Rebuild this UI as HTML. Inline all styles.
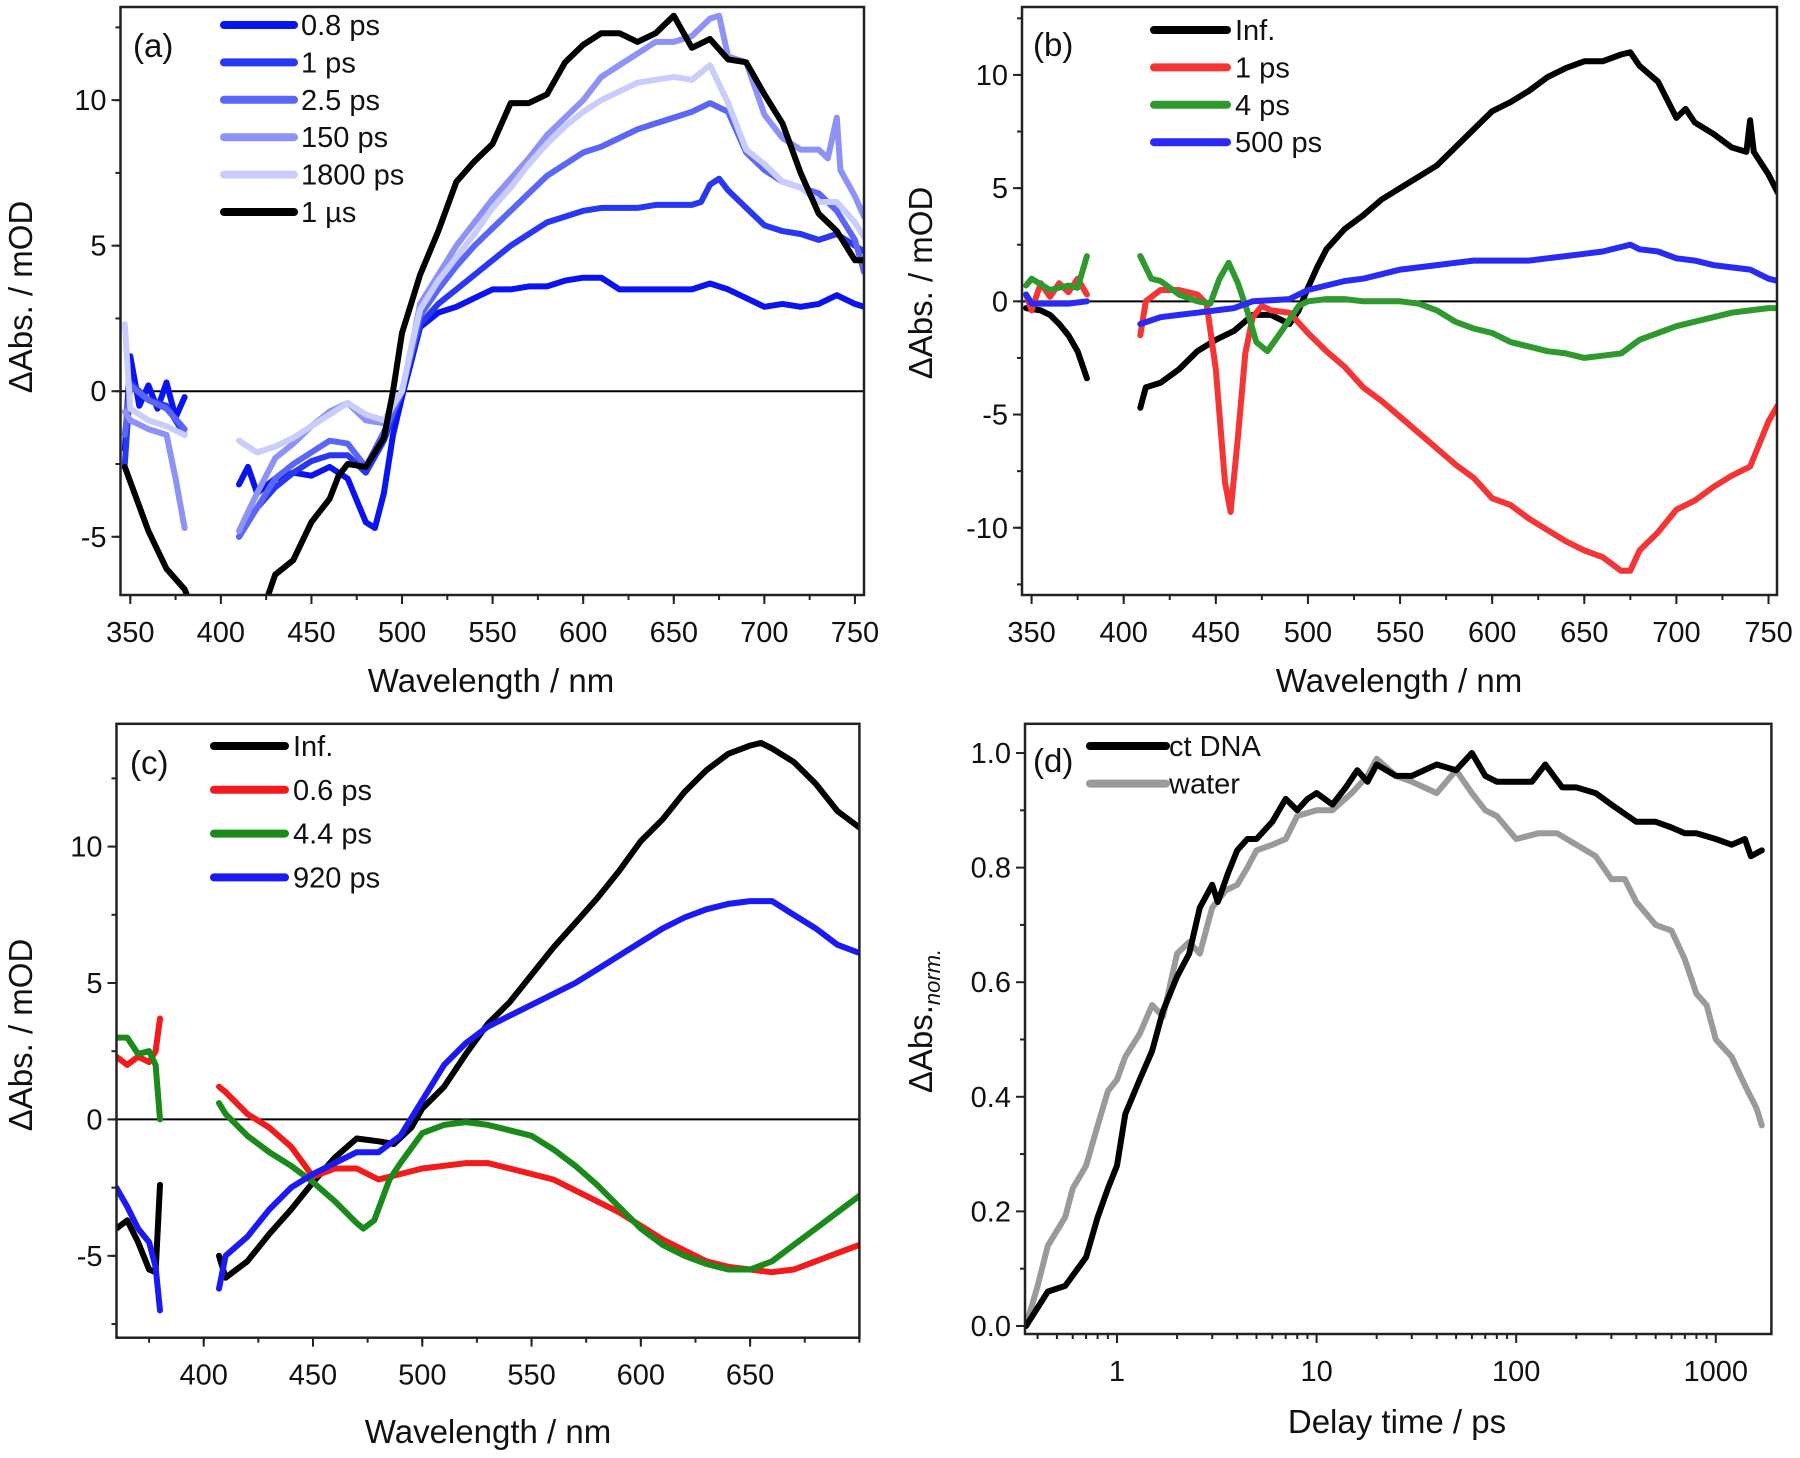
<!DOCTYPE html>
<html><head><meta charset="utf-8"><style>
html,body{margin:0;padding:0;background:#fff;}
svg{display:block;font-family:"Liberation Sans",Arial,sans-serif;}
</style></head><body>
<svg id="fig" width="1800" height="1458" viewBox="0 0 1800 1458" xmlns="http://www.w3.org/2000/svg"></svg>
<script>
// ---------- Panel (a) data ----------
const aLabels = ["0.8 ps","1 ps","2.5 ps","150 ps","1800 ps","1 µs"];
const aColors = ["#0a14f0","#2838f2","#5a66f5","#8c92f7","#c9cdfb","#000000"];
const a_08 = [[347,-2],[350,1.2],[355,-0.5],[360,0.2],[365,-0.6],[370,0.3],[375,-0.9],[380,-0.2],null,[410,-3.2],[415,-2.6],[420,-3.5],[430,-3.0],[440,-2.8],[450,-2.9],[460,-2.6],[470,-3.0],[480,-4.5],[485,-4.7],[490,-3.5],[495,-1.5],[500,-0.2],[505,1.0],[510,2.2],[520,2.7],[530,2.9],[540,3.2],[550,3.5],[560,3.5],[570,3.6],[580,3.6],[590,3.8],[600,3.9],[610,3.9],[620,3.5],[630,3.5],[640,3.5],[650,3.5],[660,3.5],[670,3.7],[680,3.5],[690,3.2],[700,2.9],[710,3.0],[720,2.9],[730,3.0],[740,3.3],[750,3.0],[755,2.9]];
const a_1 = [[347,-2.5],[350,0.3],[360,-0.3],[370,-0.5],[380,-1.5],null,[410,-5],[420,-4],[430,-3.3],[440,-2.8],[450,-2.4],[460,-2.2],[470,-2.2],[480,-2.8],[490,-1.7],[500,0],[505,1.2],[510,2.3],[520,3],[530,3.5],[540,4],[550,4.5],[560,5.0],[570,5.4],[580,5.8],[590,6.0],[600,6.2],[610,6.3],[620,6.3],[630,6.3],[640,6.4],[650,6.4],[660,6.4],[665,6.5],[670,7.1],[675,7.3],[680,6.9],[690,6.3],[700,5.7],[710,5.5],[720,5.4],[730,5.2],[740,5.4],[750,5.0],[755,4.8]];
const a_25 = [[347,-1.5],[350,0.2],[360,-0.3],[370,-0.6],[380,-1.3],null,[410,-5],[420,-4],[430,-3],[440,-2.5],[450,-2.1],[460,-1.7],[470,-1.8],[480,-2.6],[490,-1.4],[500,0],[505,1.3],[510,2.6],[520,3.5],[530,4.3],[540,5],[550,5.6],[560,6.2],[570,6.8],[580,7.4],[590,7.8],[600,8.2],[610,8.4],[620,8.7],[630,9.0],[640,9.2],[650,9.4],[660,9.6],[670,9.9],[680,9.6],[690,8.2],[700,7.6],[710,7.2],[720,7.0],[730,6.8],[740,6.2],[750,5.2],[755,4.1]];
const a_150 = [[347,-0.7],[350,-1],[360,-1.3],[370,-1.5],[375,-3],[380,-4.7],null,[410,-4.8],[420,-3.5],[430,-2.3],[440,-1.8],[450,-1.2],[460,-0.7],[470,-0.4],[480,-1],[490,-1.1],[495,-0.5],[500,0],[505,1.4],[510,3],[520,4],[530,5],[540,5.8],[550,6.6],[560,7.3],[570,8],[580,8.8],[590,9.4],[600,10],[610,10.8],[620,11.2],[630,11.6],[640,12],[650,12.0],[660,12.2],[670,12.8],[675,12.9],[680,11.5],[690,11.3],[700,9.5],[710,8.7],[720,8.3],[730,8.3],[735,8.0],[740,9.4],[742,7.6],[750,6.7],[755,6.0]];
const a_1800 = [[347,2.3],[350,-0.6],[360,-1],[370,-1.2],[380,-1.5],null,[410,-1.7],[420,-2.1],[430,-1.9],[440,-1.6],[450,-1.2],[460,-0.8],[470,-0.4],[480,-0.8],[490,-1.0],[500,0],[505,1.5],[510,2.8],[520,3.8],[530,4.6],[540,5.4],[550,6.3],[560,7],[570,7.8],[580,8.5],[590,9.1],[600,9.6],[610,10],[620,10.3],[630,10.6],[640,10.7],[650,10.8],[660,10.7],[670,11.2],[680,9.9],[690,8.3],[700,7.8],[710,7.2],[720,7],[730,6.5],[740,6.5],[750,5.8],[755,5.3]];
const a_1us = [[347,-2.6],[360,-4.8],[370,-6.1],[380,-6.8],[385,-7.6],null,[423,-7.6],[425,-7.2],[430,-6.3],[440,-5.8],[450,-4.5],[460,-3.7],[465,-2.9],[470,-2.5],[480,-2.6],[490,-1.6],[495,0],[500,2.0],[505,3.0],[510,4.0],[520,5.5],[530,7.2],[540,7.9],[550,8.5],[560,9.9],[570,9.9],[580,10.2],[590,11.3],[600,11.9],[610,12.3],[620,12.3],[630,12.0],[640,12.3],[650,12.9],[660,11.8],[670,12.1],[680,11.4],[690,11.3],[700,10.2],[710,9.2],[720,7.5],[730,6.1],[740,5.5],[750,4.5],[755,4.5]];
const aXTicks = [350,400,450,500,550,600,650,700,750];
const aYTicks = [-5,0,5,10];

// ---------- Panel (b) data ----------
const bLabels = ["Inf.","1 ps","4 ps","500 ps"];
const bColors = ["#000000","#f53535","#2e9a2e","#2a2af5"];
const b_inf = [[347,-0.3],[355,-0.4],[360,-0.6],[365,-1],[370,-1.5],[375,-2.2],[380,-3.4],null,[409,-4.7],[412,-3.8],[420,-3.6],[430,-3.0],[440,-2.2],[450,-1.7],[460,-1.3],[470,-0.6],[480,-0.6],[490,-1.0],[495,-0.4],[500,0.6],[505,1.5],[510,2.3],[520,3.2],[530,3.8],[540,4.5],[550,5.0],[560,5.5],[570,6.0],[580,6.8],[590,7.6],[600,8.4],[610,8.8],[620,9.3],[630,9.9],[640,10.3],[650,10.6],[660,10.6],[670,10.9],[675,11],[680,10.4],[690,9.7],[700,8.1],[705,8.5],[710,7.9],[720,7.4],[730,6.8],[738,6.6],[740,8.0],[742,6.6],[750,5.6],[755,4.8]];
const b_1 = [[347,0.3],[350,-0.4],[355,0.8],[360,0.2],[365,0.8],[370,0.4],[375,1.0],[380,0.3],null,[409,-1.5],[412,0],[420,0.5],[430,0.5],[440,0.3],[445,-0.1],[450,-3],[455,-8],[458,-9.3],[462,-6],[466,-2.3],[470,-0.7],[475,-0.2],[480,-0.4],[490,-0.5],[500,-1.4],[510,-2.2],[520,-2.9],[530,-3.8],[540,-4.4],[550,-5.1],[560,-5.8],[570,-6.5],[580,-7.2],[590,-7.8],[600,-8.7],[610,-9.0],[620,-9.6],[630,-10.1],[640,-10.6],[650,-11],[660,-11.3],[670,-11.9],[675,-11.9],[680,-11],[690,-10.2],[700,-9.2],[710,-8.8],[720,-8.2],[730,-7.7],[740,-7.3],[750,-5.3],[755,-4.6]];
const b_4 = [[347,0.7],[350,1.0],[360,0.5],[370,0.7],[375,0.6],[380,2.0],null,[409,2.0],[415,1.0],[420,0.9],[430,0.3],[440,0],[447,-0.1],[452,1],[457,1.7],[462,0.8],[467,-0.4],[472,-1.8],[478,-2.2],[485,-1.4],[495,-0.2],[500,0],[510,0.1],[520,0.1],[530,0],[540,0],[550,0],[560,-0.1],[570,-0.4],[580,-0.9],[590,-1.2],[600,-1.4],[610,-1.8],[620,-2.0],[630,-2.2],[640,-2.3],[650,-2.5],[660,-2.4],[670,-2.3],[680,-1.7],[690,-1.4],[700,-1.1],[710,-0.9],[720,-0.7],[730,-0.5],[740,-0.4],[750,-0.3],[755,-0.3]];
const b_500 = [[347,0.3],[350,-0.1],[360,-0.1],[370,-0.1],[380,0],null,[409,-1],[420,-0.7],[430,-0.6],[440,-0.5],[450,-0.4],[460,-0.3],[470,0],[480,0.05],[490,0.1],[500,0.5],[510,0.7],[520,0.9],[530,1.0],[540,1.2],[550,1.4],[560,1.5],[570,1.6],[580,1.7],[590,1.8],[600,1.8],[610,1.8],[620,1.8],[630,1.9],[640,2.0],[650,2.1],[660,2.2],[670,2.4],[675,2.5],[680,2.3],[690,2.2],[700,1.9],[710,1.8],[720,1.6],[730,1.5],[740,1.4],[750,1.0],[755,0.9]];
const bXTicks = [350,400,450,500,550,600,650,700,750];
const bYTicks = [-10,-5,0,5,10];

// ---------- Panel (c) data ----------
const cLabels = ["Inf.","0.6 ps","4.4 ps","920 ps"];
const cColors = ["#000000","#f21a1a","#1a8a1a","#1a1af5"];
const c_inf = [[360,-4.0],[365,-3.7],[370,-4.5],[375,-5.5],[378,-5.6],[380,-2.4],null,[407,-5.0],[410,-5.8],[420,-5.2],[430,-4.2],[440,-3.3],[450,-2.3],[460,-1.4],[470,-0.7],[480,-0.8],[487,-0.9],[495,-0.3],[500,0.4],[510,1.2],[520,2.4],[530,3.5],[540,4.3],[550,5.3],[560,6.3],[570,7.2],[580,8.1],[590,9.1],[600,10.2],[610,11.0],[620,12.0],[630,12.8],[640,13.4],[650,13.7],[655,13.8],[660,13.6],[670,13.1],[680,12.3],[690,11.3],[700,10.7]];
const c_06 = [[360,2.3],[365,2.0],[370,2.3],[375,2.1],[378,2.5],[380,3.7],null,[407,1.2],[410,1.0],[420,0.2],[430,-0.3],[440,-1.0],[450,-2.1],[460,-1.8],[470,-1.8],[480,-2.2],[490,-2.0],[500,-1.8],[510,-1.7],[520,-1.6],[530,-1.6],[540,-1.8],[550,-2.0],[560,-2.2],[570,-2.6],[580,-3.0],[590,-3.4],[600,-3.9],[610,-4.4],[620,-4.8],[630,-5.2],[640,-5.4],[650,-5.5],[660,-5.6],[670,-5.5],[680,-5.2],[690,-4.9],[700,-4.6]];
const c_44 = [[360,3.0],[365,3.0],[370,2.4],[375,2.5],[378,2.0],[380,0],null,[407,0.6],[410,0.2],[420,-0.6],[430,-1.2],[440,-1.7],[450,-2.3],[460,-3.0],[470,-3.8],[473,-4.0],[478,-3.7],[485,-2.2],[490,-1.6],[500,-0.5],[510,-0.2],[520,-0.1],[530,-0.2],[540,-0.4],[550,-0.6],[560,-1.1],[570,-1.7],[580,-2.4],[590,-3.2],[600,-4.0],[610,-4.6],[620,-5.0],[630,-5.3],[640,-5.5],[650,-5.5],[660,-5.2],[670,-4.6],[680,-4.0],[690,-3.4],[700,-2.8]];
const c_920 = [[360,-2.5],[365,-3.2],[370,-4.0],[375,-4.5],[378,-5.4],[380,-7.0],null,[407,-6.2],[410,-5],[420,-4.3],[430,-3.3],[440,-2.5],[450,-2.0],[460,-1.6],[470,-1.2],[480,-1.2],[490,-0.6],[500,0.7],[510,2.0],[520,2.8],[530,3.4],[540,3.8],[550,4.2],[560,4.6],[570,5.0],[580,5.5],[590,6.0],[600,6.5],[610,7.0],[620,7.4],[630,7.7],[640,7.9],[650,8.0],[660,8.0],[670,7.5],[680,7.0],[690,6.4],[700,6.1]];
const cXTicks = [400,450,500,550,600,650];
const cYTicks = [-5,0,5,10];

// ---------- Panel (d) data ----------
const dLabels = ["ct DNA","water"];
const dColors = ["#000000","#9a9a9a"];
const d_dna = [[0.35,0],[0.45,0.06],[0.55,0.07],[0.7,0.12],[0.8,0.19],[0.9,0.24],[1.0,0.28],[1.1,0.37],[1.3,0.43],[1.5,0.48],[1.7,0.55],[2,0.61],[2.3,0.65],[2.6,0.73],[3,0.77],[3.2,0.74],[3.6,0.79],[4,0.83],[4.5,0.85],[5,0.85],[6,0.88],[7,0.92],[8,0.9],[9,0.92],[10,0.93],[12,0.91],[14,0.94],[16,0.97],[18,0.95],[20,0.98],[25,0.96],[30,0.96],[40,0.98],[50,0.97],[60,1.0],[70,0.96],[80,0.95],[100,0.95],[120,0.95],[140,0.98],[170,0.94],[200,0.94],[250,0.93],[300,0.91],[400,0.88],[500,0.88],[600,0.87],[700,0.86],[800,0.86],[1000,0.85],[1200,0.84],[1400,0.85],[1500,0.82],[1700,0.83]];
const d_water = [[0.35,0],[0.4,0.07],[0.45,0.14],[0.55,0.19],[0.6,0.24],[0.7,0.28],[0.8,0.35],[0.9,0.41],[1.0,0.43],[1.1,0.47],[1.3,0.51],[1.5,0.56],[1.7,0.54],[2,0.65],[2.3,0.67],[2.6,0.65],[3,0.73],[3.5,0.76],[4,0.77],[4.5,0.8],[5,0.83],[6,0.84],[7,0.85],[8,0.89],[10,0.9],[12,0.9],[15,0.93],[18,0.96],[20,0.99],[25,0.96],[30,0.95],[40,0.93],[50,0.97],[60,0.93],[70,0.90],[80,0.89],[100,0.85],[130,0.86],[160,0.86],[200,0.84],[250,0.82],[300,0.78],[350,0.78],[400,0.74],[500,0.7],[600,0.69],[700,0.64],[800,0.58],[900,0.56],[1000,0.5],[1200,0.47],[1400,0.42],[1600,0.38],[1700,0.35]];
const dXTicks = [1,10,100,1000];
const dXTickLabels = ["1","10","100","1000"];
const dYTicks = [0,0.2,0.4,0.6,0.8,1.0];
const dYTickLabels = ["0.0","0.2","0.4","0.6","0.8","1.0"];

const NS = "http://www.w3.org/2000/svg";
const svg = document.getElementById('fig');
function mk(tag, attrs, parent){
  const e = document.createElementNS(NS, tag);
  for (const k in attrs) e.setAttribute(k, attrs[k]);
  (parent||svg).appendChild(e);
  return e;
}
function text(str, x, y, size, parent, extra){
  const t = mk('text', Object.assign({x:x, y:y, 'font-size':size, fill:'#111'}, extra||{}), parent);
  t.textContent = str;
  return t;
}

function panel(o){
  const g = mk('g', {});
  
  
  const L=o.box[0], R=o.box[1], T=o.box[2], B=o.box[3];
  const xs = o.log
    ? v => L + (Math.log10(v)-Math.log10(o.xd[0]))/(Math.log10(o.xd[1])-Math.log10(o.xd[0]))*(R-L)
    : v => L + (v-o.xd[0])/(o.xd[1]-o.xd[0])*(R-L);
  const ys = v => B - (v-o.yd[0])/(o.yd[1]-o.yd[0])*(B-T);
  const cid = 'clip-'+o.name;
  const cp = mk('clipPath', {id:cid}, g);
  mk('rect', {x:L, y:T, width:R-L, height:B-T}, cp);
  if (o.zero){
    const z = mk('line', {x1:L, x2:R, y1:ys(0), y2:ys(0), stroke:'#000', 'stroke-width':2}, g);
    
    
  }
  const sg = mk('g', {'clip-path':'url(#'+cid+')'}, g);
  o.series.forEach((s, i) => {
    let d = '', pen = false;
    s.forEach(p => {
      if (!p){ pen = false; return; }
      d += (pen ? 'L' : 'M') + xs(p[0]).toFixed(1) + ' ' + ys(p[1]).toFixed(1) + ' ';
      pen = true;
    });
    const path = mk('path', {d:d, fill:'none', stroke:o.colors[i], 'stroke-width':6, 'stroke-linejoin':'round', 'stroke-linecap':'round'}, sg);
    
    
  });
  const fr = mk('rect', {x:L, y:T, width:R-L, height:B-T, fill:'none', stroke:'#222', 'stroke-width':2.5}, g);
  
  
  o.xt.forEach((v, i) => {
    const X = xs(v);
    mk('line', {x1:X, x2:X, y1:B, y2:B+9, stroke:'#222', 'stroke-width':2}, g);
    const t = text(o.xtl ? o.xtl[i] : String(v), X, B+47, 29, g, {'text-anchor':'middle'});
    
    
  });
  o.xminor.forEach(v => {
    const X = xs(v);
    if (X < L-0.5 || X > R+0.5) return;
    mk('line', {x1:X, x2:X, y1:B, y2:B+5, stroke:'#222', 'stroke-width':2}, g);
  });
  o.yt.forEach((v, i) => {
    const Y = ys(v);
    mk('line', {x1:L-9, x2:L, y1:Y, y2:Y, stroke:'#222', 'stroke-width':2}, g);
    const t = text(o.ytl ? o.ytl[i] : String(v), L-14, Y+10, 29, g, {'text-anchor':'end'});
    
    
  });
  o.yminor.forEach(v => {
    const Y = ys(v);
    if (Y < T-0.5 || Y > B+0.5) return;
    mk('line', {x1:L-5, x2:L, y1:Y, y2:Y, stroke:'#222', 'stroke-width':2}, g);
  });
  const xt = text(o.xtitle, o.xtpos[0], o.xtpos[1], 33, g, {'text-anchor':'middle'});
  
  
  const yt = mk('text', {x:0, y:0, 'font-size':33, fill:'#111', 'text-anchor':'middle', transform:'translate('+o.ytpos[0]+','+o.ytpos[1]+') rotate(-90)'}, g);
  yt.innerHTML = o.ytitle;
  
  
  const pl = text(o.tag, o.tagpos[0], o.tagpos[1], 33, g);
  
  
  const lg = mk('g', {}, g);
  
  
  o.labels.forEach((lab, i) => {
    const y = o.leg.y + i*o.leg.dy;
    const e = mk('g', {}, lg);
    
    
    mk('line', {x1:o.leg.x1, x2:o.leg.x2, y1:y, y2:y, stroke:o.colors[i], 'stroke-width':8, 'stroke-linecap':'round'}, e);
    text(lab, o.leg.tx, y+10, 29, e);
  });
}

function range(a, b, s){ const r=[]; for (let v=a; v<=b+1e-9; v+=s) r.push(+v.toFixed(4)); return r; }
const logMinor = []; [0.1,1,10,100,1000].forEach(dec => { for (let k=2;k<=9;k++) logMinor.push(dec*k); });

panel({name:'panel-a', box:[120.5,864,7,595], xd:[344.6,755], yd:[-7,13.2],
  series:[a_08,a_1,a_25,a_150,a_1800,a_1us], colors:aColors, labels:aLabels, zero:true,
  xt:aXTicks, xminor:range(325,775,25), yt:aYTicks, yminor:range(-7.5,12.5,2.5),
  xtitle:'Wavelength / nm', xtpos:[491,692], ytitle:'ΔAbs. / mOD', ytpos:[32,297],
  tag:'(a)', tagpos:[133,57], leg:{x1:224, x2:294, tx:301, y:25, dy:37.4}});

panel({name:'panel-b', box:[1022,1777,7,595], xd:[344.8,754.6], yd:[-12.97,13],
  series:[b_inf,b_1,b_4,b_500], colors:bColors, labels:bLabels, zero:true,
  xt:bXTicks, xminor:range(325,775,25), yt:bYTicks, yminor:range(-12.5,12.5,2.5),
  xtitle:'Wavelength / nm', xtpos:[1399,692], ytitle:'ΔAbs. / mOD', ytpos:[932,283],
  tag:'(b)', tagpos:[1033,56], leg:{x1:1154, x2:1227, tx:1235, y:30, dy:37.4}});

panel({name:'panel-c', box:[116.5,859.4,723.8,1337.7], xd:[360.1,700], yd:[-8,14.5],
  series:[c_inf,c_06,c_44,c_920], colors:cColors, labels:cLabels, zero:true,
  xt:cXTicks, xminor:range(375,700,25), yt:cYTicks, yminor:range(-7.5,12.5,2.5),
  xtitle:'Wavelength / nm', xtpos:[488,1443], ytitle:'ΔAbs. / mOD', ytpos:[32,1035],
  tag:'(c)', tagpos:[130,774], leg:{x1:214, x2:285, tx:293, y:746, dy:43.8}});

panel({name:'panel-d', box:[1025,1771.4,723.8,1334], xd:[0.346,1900], yd:[-0.014,1.051], log:true,
  series:[d_dna,d_water].reverse(), colors:dColors.slice().reverse(), labels:dLabels.slice().reverse(), zero:false,
  xt:dXTicks, xtl:dXTickLabels, xminor:logMinor, yt:dYTicks, ytl:dYTickLabels, yminor:range(0.1,0.9,0.2),
  xtitle:'Delay time / ps', xtpos:[1397,1433], ytitle:'ΔAbs.<tspan font-size="22" font-style="italic" dy="8">norm.</tspan>', ytpos:[932,1021],
  tag:'(d)', tagpos:[1033,772], leg:{x1:1090, x2:1166, tx:1169, y:783.6, dy:-37.6}});
</script>
</body></html>
